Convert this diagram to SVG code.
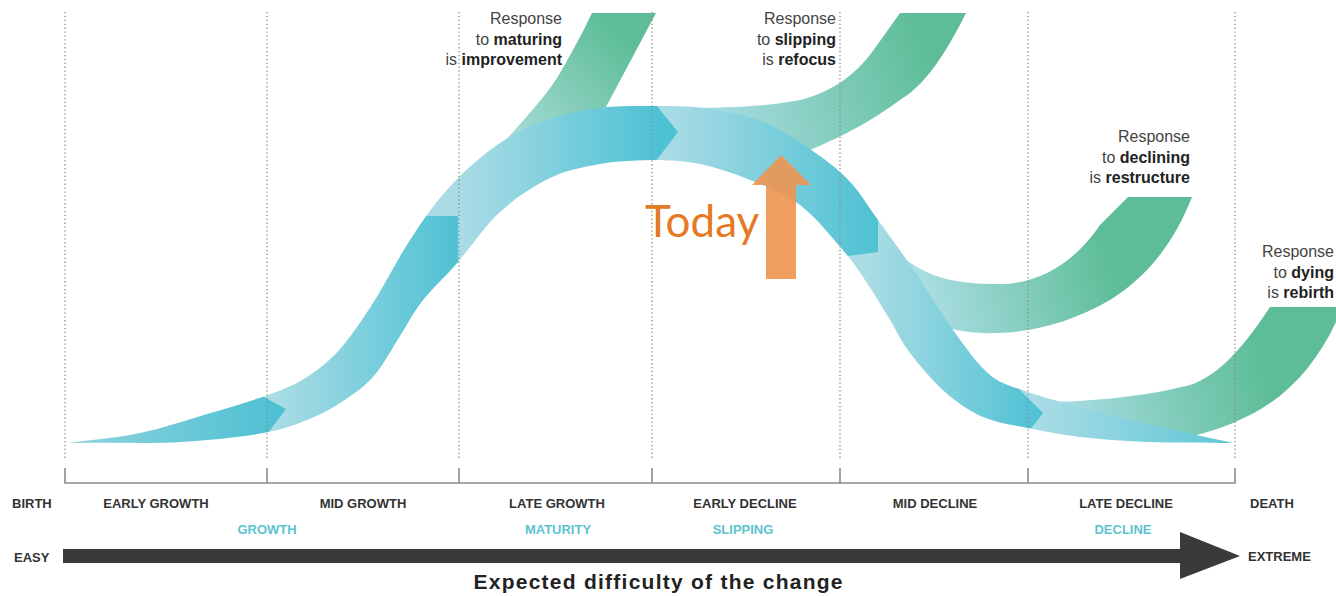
<svg xmlns="http://www.w3.org/2000/svg" width="1336" height="596" viewBox="0 0 1336 596">
<style>
  .lbl{font-family:"Liberation Sans",Arial,sans-serif;font-weight:bold;font-size:13px;fill:#333}
  .cat{font-family:"Liberation Sans",Arial,sans-serif;font-weight:bold;font-size:13px;fill:#5ec3d0}
  .resp{font-family:"Liberation Sans",Arial,sans-serif;font-size:16px;fill:#444;text-anchor:end}
  .resp tspan.b{font-weight:bold;fill:#222}
  .dot{stroke:#8a8a8a;stroke-width:1.3;stroke-dasharray:1.3 2.6;fill:none}
  .brk{stroke:#8a8a8a;stroke-width:1.6;fill:none}
</style>
<defs>
  <path id="rib" d="M67,443 C91,440 116.7,437.8 140,433 C163.3,428.2 185.7,420.3 207,414 C228.3,407.7 251.3,401.2 268,395 C284.7,388.8 295,384.7 307,377 C319,369.3 329,361.3 340,349 C351,336.7 361.8,320.3 373,303 C384.2,285.7 395.8,262.5 407,245 C418.2,227.5 427.8,212.5 440,198 C452.2,183.5 465,170 480,158 C495,146 511.7,134.2 530,126 C548.3,117.8 569.7,112.3 590,109 C610.3,105.7 632,106 652,106 C672,106 690.3,105.8 710,109 C729.7,112.2 748.3,114.5 770,125 C791.7,135.5 822,156.2 840,172 C858,187.8 865.2,202.8 878,220 C890.8,237.2 904.5,256.7 917,275 C929.5,293.3 940.8,313.3 953,330 C965.2,346.7 977.5,364.7 990,375 C1002.5,385.3 1013,386.7 1028,392 C1043,397.3 1060.2,401.7 1080,407 C1099.8,412.3 1121.5,418 1147,424 C1172.5,430 1204.3,436.7 1233,443 C1204.3,442.7 1172.5,443 1147,442 C1121.5,441 1099.8,439.3 1080,437 C1060.2,434.7 1044.2,431.3 1028,428 C1011.8,424.7 996.8,423 983,417 C969.2,411 957.2,402.7 945,392 C932.8,381.3 919.2,365 910,353 C900.8,341 897.2,331.7 890,320 C882.8,308.3 874.8,294.7 867,283 C859.2,271.3 854.2,263 843,250 C831.8,237 815.5,216.7 800,205 C784.5,193.3 766.7,186.8 750,180 C733.3,173.2 716.3,167.3 700,164 C683.7,160.7 668.7,160 652,160 C635.3,160 617,161 600,164 C583,167 566.7,170 550,178 C533.3,186 515.3,198 500,212 C484.7,226 470.8,247.3 458,262 C445.2,276.7 432.7,287.7 423,300 C413.3,312.3 408.3,323.2 400,336 C391.7,348.8 383,365.8 373,377 C363,388.2 351,395.8 340,403 C329,410.2 319,415.2 307,420 C295,424.8 284.7,428.7 268,432 C251.3,435.3 228.3,438.2 207,440 C185.7,441.8 163.3,443.5 140,443 C116.7,442.5 91.3,443 67,443 Z"/>
  <clipPath id="c1"><path d="M0,300 H262 V396 L286,409 L268,433 V470 H0 Z"/></clipPath>
  <clipPath id="c2"><path d="M240,216 H458 V470 H240 Z"/></clipPath>
  <clipPath id="c3"><path d="M400,0 H652 V100 L678,132 L652,166 V300 H400 Z"/></clipPath>
  <clipPath id="c4"><path d="M630,0 H878 V252 L840,257 L835,300 H630 Z"/></clipPath>
  <clipPath id="c5"><path d="M820,150 H1020 V390 L1043,413 L1022,440 V470 H820 Z"/></clipPath>
  <clipPath id="c6"><path d="M1000,300 H1240 V460 H1000 Z"/></clipPath>
  <linearGradient id="g1" gradientUnits="userSpaceOnUse" x1="67" y1="0" x2="280" y2="0"><stop offset="0" stop-color="#8fd3de"/><stop offset="1" stop-color="#4dc0d2"/></linearGradient>
  <linearGradient id="g2" gradientUnits="userSpaceOnUse" x1="275" y1="0" x2="458" y2="0"><stop offset="0" stop-color="#a9dce5"/><stop offset="1" stop-color="#4ec1d3"/></linearGradient>
  <linearGradient id="g3" gradientUnits="userSpaceOnUse" x1="462" y1="0" x2="660" y2="0"><stop offset="0" stop-color="#a9dce5"/><stop offset="1" stop-color="#4ec1d3"/></linearGradient>
  <linearGradient id="g4" gradientUnits="userSpaceOnUse" x1="665" y1="0" x2="878" y2="0"><stop offset="0" stop-color="#a9dce5"/><stop offset="1" stop-color="#4ec1d3"/></linearGradient>
  <linearGradient id="g5" gradientUnits="userSpaceOnUse" x1="870" y1="0" x2="1040" y2="0"><stop offset="0" stop-color="#a9dce5"/><stop offset="1" stop-color="#4ec1d3"/></linearGradient>
  <linearGradient id="g6" gradientUnits="userSpaceOnUse" x1="1035" y1="0" x2="1233" y2="0"><stop offset="0" stop-color="#a9dce5"/><stop offset="1" stop-color="#5ec6d6"/></linearGradient>
  <linearGradient id="gm" gradientUnits="userSpaceOnUse" x1="505" y1="140" x2="615" y2="25"><stop offset="0" stop-color="#a9dcd8"/><stop offset="1" stop-color="#5cbd96"/></linearGradient>
  <linearGradient id="gr" gradientUnits="userSpaceOnUse" x1="720" y1="115" x2="925" y2="35"><stop offset="0" stop-color="#a6dbe0"/><stop offset="1" stop-color="#5cbd96"/></linearGradient>
  <linearGradient id="gs" gradientUnits="userSpaceOnUse" x1="925" y1="300" x2="1110" y2="250"><stop offset="0" stop-color="#aadde3"/><stop offset="1" stop-color="#5cbd96"/></linearGradient>
  <linearGradient id="gb" gradientUnits="userSpaceOnUse" x1="1060" y1="415" x2="1265" y2="360"><stop offset="0" stop-color="#aadde3"/><stop offset="1" stop-color="#5cbd96"/></linearGradient>
</defs>
<rect width="1336" height="596" fill="#fff"/>

<g id="response-bands">
  <path id="band-maturing" fill="url(#gm)" d="M475,175 C500,145 545,100 560,73 C572,52 583,32 592,13 L656,13 L598,122 Z"/>
  <path id="band-slipping" fill="url(#gr)" d="M680,108 C730,108 770,106 800,100 C835,92 860,70 875,48 L900,13 L966,13 C945,55 925,85 900,100 C870,122 840,138 805,152 L700,150 Z"/>
  <path id="band-declining" fill="url(#gs)" d="M900,255 C930,280 960,284 1000,284 C1040,284 1075,262 1100,225 L1128,197 L1192,197 C1175,240 1150,275 1110,300 C1075,320 1040,331 1000,333 C970,334 950,330 930,322 Z"/>
  <path id="band-dying" fill="url(#gb)" d="M1040,402 C1080,402 1140,398 1190,385 C1220,375 1245,345 1270,307 L1340,307 L1340,313 C1320,360 1290,395 1250,415 C1225,428 1200,435 1175,440 L1050,428 Z"/>
</g>

<g id="lifecycle-ribbon">
  <use href="#rib" fill="url(#g6)" clip-path="url(#c6)"/>
  <use href="#rib" fill="url(#g5)" clip-path="url(#c5)"/>
  <use href="#rib" fill="url(#g4)" clip-path="url(#c4)"/>
  <use href="#rib" fill="url(#g3)" clip-path="url(#c3)"/>
  <use href="#rib" fill="url(#g2)" clip-path="url(#c2)"/>
  <use href="#rib" fill="url(#g1)" clip-path="url(#c1)"/>
</g>

<g id="connectors">
  <path class="dot" d="M65,12 V460 M267,12 V460 M459,12 V460 M652,12 V460 M840,12 V460 M1028,12 V460 M1235,12 V460"/>
  <path class="brk" d="M65,468 V483 H1235 V468 M267,468 V483 M459,468 V483 M652,468 V483 M840,468 V483 M1028,468 V483"/>
</g>

<g id="today">
  <polygon points="766,279 766,185 752,185 781,155 811,185 796,185 796,279" fill="#ee9550" fill-opacity="0.9"/>
  <text x="645" y="237" font-family="Lato, 'Open Sans', sans-serif" font-size="44" fill="#e47b24">Today</text>
</g>

<g id="response-labels">
  <text class="resp" x="562" y="24">Response<tspan x="562" y="45">to <tspan class="b">maturing</tspan></tspan><tspan x="562" y="65">is <tspan class="b">improvement</tspan></tspan></text>
  <text class="resp" x="836" y="24">Response<tspan x="836" y="45">to <tspan class="b">slipping</tspan></tspan><tspan x="836" y="65">is <tspan class="b">refocus</tspan></tspan></text>
  <text class="resp" x="1190" y="142">Response<tspan x="1190" y="163">to <tspan class="b">declining</tspan></tspan><tspan x="1190" y="183">is <tspan class="b">restructure</tspan></tspan></text>
  <text class="resp" x="1334" y="257">Response<tspan x="1334" y="278">to <tspan class="b">dying</tspan></tspan><tspan x="1334" y="298">is <tspan class="b">rebirth</tspan></tspan></text>
</g>

<g id="stage-labels">
  <text class="lbl" x="12" y="508">BIRTH</text>
  <text class="lbl" x="156" y="508" text-anchor="middle">EARLY GROWTH</text>
  <text class="lbl" x="363" y="508" text-anchor="middle">MID GROWTH</text>
  <text class="lbl" x="557" y="508" text-anchor="middle">LATE GROWTH</text>
  <text class="lbl" x="745" y="508" text-anchor="middle">EARLY DECLINE</text>
  <text class="lbl" x="935" y="508" text-anchor="middle">MID DECLINE</text>
  <text class="lbl" x="1126" y="508" text-anchor="middle">LATE DECLINE</text>
  <text class="lbl" x="1250" y="508">DEATH</text>
</g>

<g id="phase-labels">
  <text class="cat" x="267" y="534" text-anchor="middle">GROWTH</text>
  <text class="cat" x="558" y="534" text-anchor="middle">MATURITY</text>
  <text class="cat" x="743" y="534" text-anchor="middle">SLIPPING</text>
  <text class="cat" x="1123" y="534" text-anchor="middle">DECLINE</text>
</g>

<g id="difficulty-axis">
  <rect x="63" y="549" width="1118" height="14" fill="#3a3a3a"/>
  <polygon points="1180,532 1240,556 1180,579" fill="#3a3a3a"/>
  <text class="lbl" x="14" y="562">EASY</text>
  <text class="lbl" x="1248" y="561">EXTREME</text>
  <text x="658" y="589" text-anchor="middle" font-family="'Liberation Sans', Arial, sans-serif" font-weight="bold" font-size="21" fill="#222" textLength="369" lengthAdjust="spacing">Expected difficulty of the change</text>
</g>
</svg>
